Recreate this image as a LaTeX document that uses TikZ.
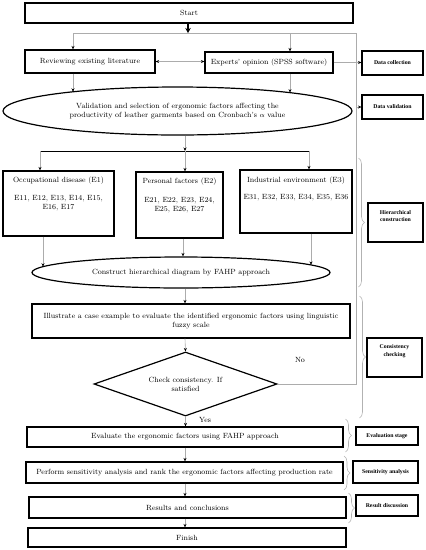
\documentclass[tikz,border=0pt]{standalone}
\usepackage{fontspec}
\newfontfamily\sidefont{Liberation Serif}
\usetikzlibrary{shapes.geometric,arrows.meta,decorations.pathreplacing,calc}
\begin{document}
\begin{tikzpicture}[x=1pt,y=-1pt, font=\fontsize{7.5}{9}\selectfont,
 box/.style={draw, line width=1.2pt, inner sep=0pt, align=center},
 side/.style={draw, line width=1.1pt, inner sep=0pt, align=center, font=\sidefont\fontsize{5.8}{6.5}\selectfont\bfseries},
 sidetext/.style={inner sep=0pt, align=center, font=\sidefont\fontsize{5.8}{7.5}\selectfont\bfseries},
 plain/.style={inner sep=0pt, align=center},
 conn/.style={draw=gray!65, line width=0.6pt},
 arr/.style={conn, -{Stealth[length=3.5pt,width=3pt,color=black]}},
 brc/.style={draw=gray!60, line width=0.6pt, decorate, decoration={brace, amplitude=6pt}}]
\useasboundingbox (0,0) rectangle (426,550);
% main boxes
\node[box, minimum width=328, minimum height=20] (start) at (189,13) {Start};
\node[box, minimum width=130, minimum height=23] (review) at (90,61.5) {Reviewing existing literature};
\node[box, minimum width=128, minimum height=21] (experts) at (269,62.5) {Experts' opinion (SPSS software)};
\node[box, ellipse, minimum width=349, minimum height=48] (ell1) at (177.5,111)
  {Validation and selection of ergonomic factors affecting the\\productivity of leather garments based on Cronbach's $\alpha$ value};
\node[box, minimum width=111, minimum height=65] (e1) at (58.5,203.5) {};
\node[plain] (e1t) at (58.5,181) {Occupational disease (E1)};
\node[plain] (e1l) at (58.5,203.5) {E11, E12, E13, E14, E15,\\E16, E17};
\node[box, minimum width=87, minimum height=66] (e2) at (179.5,205) {};
\node[plain] (e2t) at (179.5,182) {Personal factors (E2)};
\node[plain] (e2l) at (179.5,205.5) {E21, E22, E23, E24,\\E25, E26, E27};
\node[box, minimum width=112, minimum height=63] (e3) at (296,201.5) {};
\node[plain] (e3t) at (296,181) {Industrial environment (E3)};
\node[plain] (e3l) at (296,198) {E31, E32, E33, E34, E35, E36};
\node[box, ellipse, minimum width=298, minimum height=31] (ell2) at (181,272.5) {Construct hierarchical diagram by FAHP approach};
\node[box, minimum width=318, minimum height=34] (illu) at (191,321)
  {Illustrate a case example to evaluate the identified ergonomic factors using linguistic\\fuzzy scale};
\node[box, diamond, shape aspect=2.8, minimum width=183, minimum height=64] (dia) at (185.5,384)
  {Check consistency. If\\satisfied};
\node[box, minimum width=316, minimum height=20] (eval) at (185,437) {Evaluate the ergonomic factors using FAHP approach};
\node[box, minimum width=317, minimum height=21] (perf) at (184.5,472.5) {Perform sensitivity analysis and rank the ergonomic factors affecting production rate};
\node[box, minimum width=317, minimum height=21] (res) at (187.5,507.5) {Results and conclusions};
\node[box, minimum width=318, minimum height=19] (fin) at (187,537.5) {Finish};
% side boxes
\node[side, minimum width=61, minimum height=24] (dc) at (392.5,63) {Data collection};
\node[side, minimum width=61, minimum height=24] (dv) at (392.5,107) {Data validation};
\node[side, minimum width=55, minimum height=39] (hc) at (395.5,222.5) {};
\node[sidetext] (hct) at (395.5,216) {Hierarchical\\construction};
\node[side, minimum width=55, minimum height=39] (cc) at (394.5,357.5) {};
\node[sidetext] (cct) at (394.5,351) {Consistency\\checking};
\node[side, minimum width=62, minimum height=18] (es) at (387,436) {Evaluation stage};
\node[side, minimum width=65, minimum height=22] (sa) at (385.5,472) {Sensitivity analysis};
\node[side, minimum width=62, minimum height=21] (rd) at (387,505.5) {Result discussion};
% coordinates
\coordinate (tl) at (73,33);
\coordinate (te) at (290,33);
\coordinate (tr) at (356,33);
\coordinate (br) at (356,384);
\coordinate (cx) at (185,0);
\coordinate (bl) at (40,151);
\coordinate (bm) at (185,151);
\coordinate (bx) at (309,151);
% connectors
\draw[line width=1.6pt, -{Stealth[length=5pt,width=5.5pt]}] (start.south -| 188,0) -- (188,33);
\draw[conn] (dia.east) -- (br) -- (tr) -- (tl);
\draw[arr] (tl) -- (tl |- review.north);
\draw[arr] (te) -- (te |- experts.north);
\draw[conn, {Stealth[length=3.5pt,width=3pt,color=black]}-{Stealth[length=3.5pt,width=3pt,color=black]}] (review.east) -- (review.east -| experts.west);
\draw[arr] (experts.east) -- (experts.east -| dc.west);
\draw[arr] (dv.west -| tr) -- (dv.west);
\draw[arr] (tl |- review.south) -- ($(ell1.center)+(-104.5,-19.2)$);
\draw[arr] (te |- experts.south) -- ($(ell1.center)+(112.5,-18.4)$);
\draw[arr] (ell1.south -| cx) -- (bm);
\draw[line width=1pt] (bl) -- (bx);
\draw[arr] (bl) -- (bl |- e1.north);
\draw[arr] (bm) -- (bm |- e2.north);
\draw[arr] (bx) -- (bx |- e3.north);
\draw[arr] ($(e1.south)+(-15.5,0)$) -- ($(ell2.center)+(-138,-5.8)$);
\draw[arr] ($(e2.south)+(3.5,0)$) -- ($(ell2.north)+(2,0)$);
\draw[arr] ($(e3.south)+(15,0)$) -- ($(ell2.center)+(130,-7.6)$);
\draw[arr] (ell2.south -| cx) -- (illu.north -| cx);
\draw[arr] (illu.south -| cx) -- (dia.north);
\draw[arr] (dia.south) -- (eval.north -| dia.south);
\draw[arr] (eval.south -| cx) -- (perf.north -| cx);
\draw[arr] (perf.south -| cx) -- (res.north -| cx);
\draw[arr] (res.south -| cx) -- (fin.north -| cx);
\node[plain] (no) at (300,360) {No};
\node[plain] (yes) at (205,420) {Yes};
% braces
\draw[brc] (358.5,158) -- (358.5,287);
\draw[brc] (359.5,296) -- (359.5,418);
\draw[brc] (345.5,419) -- (345.5,452);
\draw[brc] (344,456) -- (344,490);
\draw[brc] (348.5,493) -- (348.5,523);
\end{tikzpicture}
\end{document}
